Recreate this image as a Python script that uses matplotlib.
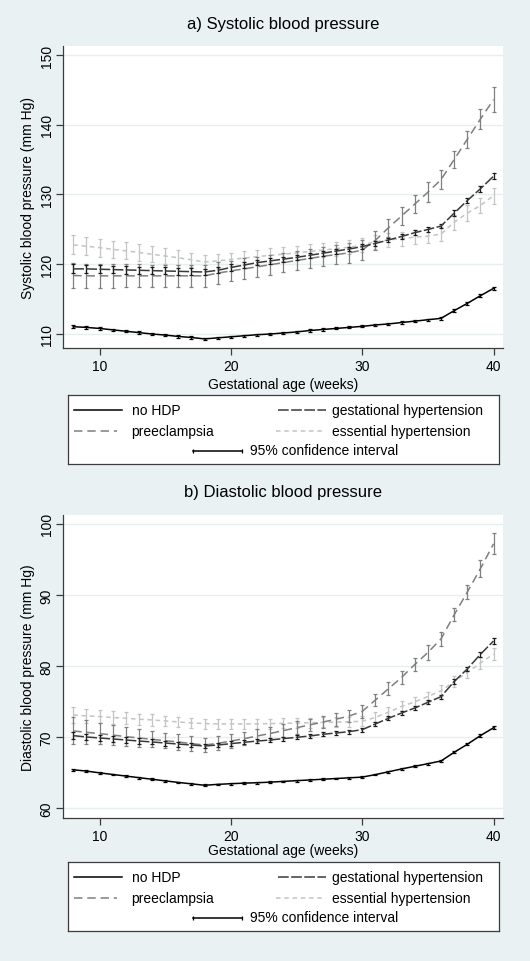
import matplotlib.pyplot as plt

plt.rcParams['font.family'] = ['Liberation Sans', 'DejaVu Sans']

# gestational age in weeks
weeks = list(range(8, 41))

# a) systolic blood pressure (mm Hg), means and half-width of 95% CI
sbp_no_hdp = [111.0, 110.9, 110.75, 110.55, 110.35, 110.15, 109.95, 109.8, 109.6, 109.45, 109.25,
              109.4, 109.55, 109.7, 109.85, 109.95, 110.1, 110.25, 110.45, 110.6, 110.75, 110.9,
              111.05, 111.25, 111.4, 111.6, 111.8, 112.0, 112.2, 113.3, 114.35, 115.45, 116.5]
sbp_no_hdp_ci = [0.2, 0.2, 0.18, 0.18, 0.17, 0.17, 0.16, 0.16, 0.15, 0.15, 0.15,
                 0.15, 0.15, 0.15, 0.15, 0.15, 0.15, 0.15, 0.15, 0.15, 0.15, 0.15,
                 0.15, 0.15, 0.15, 0.15, 0.15, 0.16, 0.17, 0.18, 0.2, 0.22, 0.25]
sbp_gest = [119.3, 119.3, 119.25, 119.2, 119.15, 119.1, 119.05, 119.0, 118.95, 118.9, 118.85,
            119.1, 119.5, 119.85, 120.2, 120.45, 120.7, 120.95, 121.25, 121.55, 121.85, 122.15,
            122.5, 122.95, 123.45, 123.95, 124.5, 124.95, 125.45, 127.3, 129.1, 130.8, 132.6]
sbp_gest_ci = [0.65, 0.6, 0.6, 0.55, 0.55, 0.5, 0.5, 0.5, 0.5, 0.5, 0.5,
               0.45, 0.45, 0.4, 0.4, 0.4, 0.35, 0.35, 0.35, 0.35, 0.35, 0.35,
               0.35, 0.35, 0.35, 0.35, 0.35, 0.35, 0.35, 0.4, 0.4, 0.4, 0.45]
sbp_pre = [118.35, 118.3, 118.3, 118.3, 118.3, 118.3, 118.3, 118.3, 118.3, 118.3, 118.3,
           118.7, 119.0, 119.3, 119.6, 119.9, 120.2, 120.5, 120.8, 121.1, 121.35, 121.6,
           122.0, 123.4, 125.2, 126.9, 128.6, 130.3, 132.1, 135.0, 137.9, 140.8, 143.6]
sbp_pre_ci = [1.75, 1.7, 1.7, 1.7, 1.65, 1.65, 1.6, 1.6, 1.6, 1.6, 1.6,
              1.55, 1.5, 1.5, 1.45, 1.45, 1.4, 1.4, 1.4, 1.4, 1.4, 1.4,
              1.4, 1.4, 1.3, 1.35, 1.35, 1.4, 1.4, 1.2, 1.25, 1.4, 1.75]
sbp_ess = [122.75, 122.55, 122.35, 122.1, 121.9, 121.65, 121.4, 121.15, 120.9, 120.6, 120.3,
           120.45, 120.65, 120.85, 121.05, 121.25, 121.4, 121.6, 121.8, 122.0, 122.2, 122.4,
           122.7, 123.2, 123.45, 123.65, 123.85, 124.0, 124.3, 126.0, 127.3, 128.4, 129.8]
sbp_ess_ci = [1.35, 1.3, 1.3, 1.25, 1.2, 1.2, 1.15, 1.1, 1.1, 1.05, 1.0,
              1.0, 1.0, 1.0, 1.0, 1.0, 1.0, 1.0, 1.0, 1.0, 1.0, 1.0,
              1.0, 1.0, 1.0, 1.0, 1.0, 1.0, 1.05, 1.05, 1.1, 1.1, 1.15]

# b) diastolic blood pressure (mm Hg)
dbp_no_hdp = [65.38, 65.2, 64.95, 64.72, 64.5, 64.27, 64.05, 63.82, 63.6, 63.4, 63.2,
              63.33, 63.42, 63.5, 63.56, 63.64, 63.75, 63.85, 63.95, 64.05, 64.15, 64.25,
              64.35, 64.7, 65.1, 65.5, 65.87, 66.24, 66.62, 67.84, 68.97, 70.19, 71.3]
dbp_no_hdp_ci = [0.15, 0.14, 0.13, 0.13, 0.12, 0.12, 0.12, 0.12, 0.12, 0.12, 0.12,
                 0.12, 0.12, 0.12, 0.12, 0.12, 0.12, 0.12, 0.12, 0.12, 0.12, 0.12,
                 0.12, 0.12, 0.12, 0.12, 0.12, 0.12, 0.13, 0.14, 0.15, 0.16, 0.18]
dbp_gest = [70.19, 70.0, 69.86, 69.72, 69.58, 69.43, 69.3, 69.15, 69.0, 68.87, 68.73,
            68.87, 69.06, 69.25, 69.43, 69.58, 69.77, 69.95, 70.14, 70.38, 70.56, 70.75,
            71.03, 71.83, 72.63, 73.38, 74.08, 74.88, 75.68, 77.8, 79.58, 81.64, 83.52]
dbp_gest_ci = [0.45, 0.42, 0.4, 0.4, 0.38, 0.36, 0.35, 0.35, 0.35, 0.35, 0.35,
               0.33, 0.32, 0.3, 0.3, 0.28, 0.28, 0.28, 0.28, 0.28, 0.28, 0.28,
               0.28, 0.28, 0.28, 0.28, 0.28, 0.3, 0.3, 0.3, 0.32, 0.35, 0.38]
dbp_pre = [70.85, 70.66, 70.47, 70.28, 70.05, 69.86, 69.67, 69.48, 69.3, 69.06, 68.87,
           69.1, 69.43, 69.76, 70.14, 70.5, 70.9, 71.3, 71.7, 72.1, 72.5, 72.95,
           73.6, 75.2, 76.8, 78.4, 80.2, 81.9, 83.8, 87.2, 90.4, 93.7, 97.2]
dbp_pre_ci = [1.9, 1.7, 1.5, 1.4, 1.3, 1.2, 1.15, 1.1, 1.1, 1.05, 1.05,
              1.0, 1.0, 0.95, 0.95, 0.95, 0.95, 0.9, 0.9, 0.9, 0.9, 0.9,
              0.9, 0.9, 0.9, 0.95, 0.95, 1.0, 1.0, 0.9, 1.0, 1.2, 1.5]
dbp_ess = [73.1, 72.97, 72.88, 72.74, 72.64, 72.5, 72.4, 72.26, 72.12, 71.98, 71.89,
           71.84, 71.84, 71.84, 71.85, 71.88, 71.92, 71.96, 72.0, 72.05, 72.1, 72.15,
           72.2, 72.75, 73.5, 74.3, 74.95, 75.7, 76.5, 77.8, 79.1, 80.4, 81.7]
dbp_ess_ci = [1.1, 1.0, 0.95, 0.9, 0.85, 0.8, 0.8, 0.75, 0.75, 0.7, 0.7,
              0.7, 0.7, 0.7, 0.7, 0.7, 0.7, 0.7, 0.7, 0.7, 0.7, 0.7,
              0.7, 0.7, 0.7, 0.7, 0.7, 0.7, 0.75, 0.75, 0.8, 0.85, 0.9]

series_names = ['no HDP', 'gestational hypertension', 'preeclampsia', 'essential hypertension']
titles = ['a) Systolic blood pressure', 'b) Diastolic blood pressure']
ylabels = ['Systolic blood pressure (mm Hg)', 'Diastolic blood pressure (mm Hg)']
yticks = [[110, 120, 130, 140, 150], [60, 70, 80, 90, 100]]
xticks = [10, 20, 30, 40]

BG = '#e9f1f2'
AXC = '#3c3c3c'
# style per series: line colour, cap colour, dash pattern (None = solid)
styles = {
    'no HDP': ('#000000', '#000000', None),
    'gestational hypertension': ('#3a3a3a', '#1a1a1a', (7, 1.6)),
    'preeclampsia': ('#7f7f7f', '#808080', (5.5, 3.2)),
    'essential hypertension': ('#c4c4c4', '#c4c4c4', (3, 2.4)),
}

W, H = 530, 962
fig = plt.figure(figsize=(W / 100, H / 100), dpi=100, facecolor=BG)


def px_axes(left, top, right, bottom):
    return fig.add_axes([left / W, 1 - bottom / H, (right - left) / W, (bottom - top) / H])


def draw_panel(ax, data, ylim, ticks, ylabel):
    ax.set_facecolor('white')
    # draw light series first so the darker ones sit on top
    for name in ['essential hypertension', 'preeclampsia', 'gestational hypertension', 'no HDP']:
        mean, ci = data[name]
        lc, cc, dash = styles[name]
        ax.errorbar(weeks, mean, yerr=ci, fmt='none', ecolor=cc, elinewidth=0.9,
                    capsize=1.6, capthick=0.9, zorder=3)
        line, = ax.plot(weeks, mean, color=lc, lw=1.1, zorder=3)
        if dash is not None:
            line.set_dashes(dash)
    ax.set_xlim(7.24, 40.72)
    ax.set_ylim(*ylim)
    ax.set_xticks(xticks)
    ax.set_yticks(ticks)
    ax.set_yticklabels([str(t) for t in ticks], rotation=90, va='center')
    ax.grid(axis='y', color='#e6eeef', lw=1.0, zorder=0)
    for s in ['top', 'right']:
        ax.spines[s].set_visible(False)
    for s in ['left', 'bottom']:
        ax.spines[s].set_color(AXC)
        ax.spines[s].set_linewidth(0.9)
    ax.tick_params(direction='out', length=5, width=0.9, color=AXC, labelsize=10, pad=3)
    ax.tick_params(axis='y', pad=2)
    ax.set_xlabel('Gestational age (weeks)', fontsize=10)
    ax.set_ylabel(ylabel, fontsize=10)


def draw_legend(top):
    lg = px_axes(67.5, top, 499, top + 69)
    lg.set_xlim(0, 431.5)
    lg.set_ylim(69, 0)
    lg.set_xticks([])
    lg.set_yticks([])
    for s in lg.spines.values():
        s.set_color(AXC)
        s.set_linewidth(0.9)
    rows = [15.3, 36.3, 55.5]
    entries = [(series_names[0], 6, 54, 64, rows[0]),
               (series_names[1], 210, 258, 265, rows[0]),
               (series_names[2], 6, 49, 64, rows[1]),
               (series_names[3], 208, 254, 264, rows[1])]
    for name, x0, x1, tx, y in entries:
        lc, cc, dash = styles[name]
        ln, = lg.plot([x0, x1], [y, y], color=lc, lw=1.1)
        if dash is not None:
            ln.set_dashes(dash)
        lg.text(tx, y, name, fontsize=10, va='center', ha='left')
    y = rows[2]
    lg.plot([125, 174], [y, y], color='black', lw=1.1)
    lg.plot([125, 174], [y, y], ls='none', marker='|', ms=3, mew=0.9, color='black')
    lg.text(182, y, '95% confidence interval', fontsize=10, va='center', ha='left')


sbp = {
    'no HDP': (sbp_no_hdp, sbp_no_hdp_ci),
    'gestational hypertension': (sbp_gest, sbp_gest_ci),
    'preeclampsia': (sbp_pre, sbp_pre_ci),
    'essential hypertension': (sbp_ess, sbp_ess_ci),
}
dbp = {
    'no HDP': (dbp_no_hdp, dbp_no_hdp_ci),
    'gestational hypertension': (dbp_gest, dbp_gest_ci),
    'preeclampsia': (dbp_pre, dbp_pre_ci),
    'essential hypertension': (dbp_ess, dbp_ess_ci),
}

ax1 = px_axes(63.3, 47.3, 503, 349.3)
draw_panel(ax1, sbp, (107.9, 151.25), yticks[0], ylabels[0])
ax1.xaxis.set_label_coords(0.5, -0.096)
ax1.yaxis.set_label_coords(-0.064, 0.5)
fig.text(283 / W, 1 - 24 / H, titles[0], ha='center', va='center', fontsize=12)
draw_legend(396)

ax2 = px_axes(63.3, 515.7, 503, 819.3)
draw_panel(ax2, dbp, (58.55, 101.3), yticks[1], ylabels[1])
ax2.xaxis.set_label_coords(0.5, -0.082)
ax2.yaxis.set_label_coords(-0.064, 0.5)
fig.text(283 / W, 1 - 493 / H, titles[1], ha='center', va='center', fontsize=12)
draw_legend(863)

fig.savefig('out.png', dpi=100, facecolor=BG)
